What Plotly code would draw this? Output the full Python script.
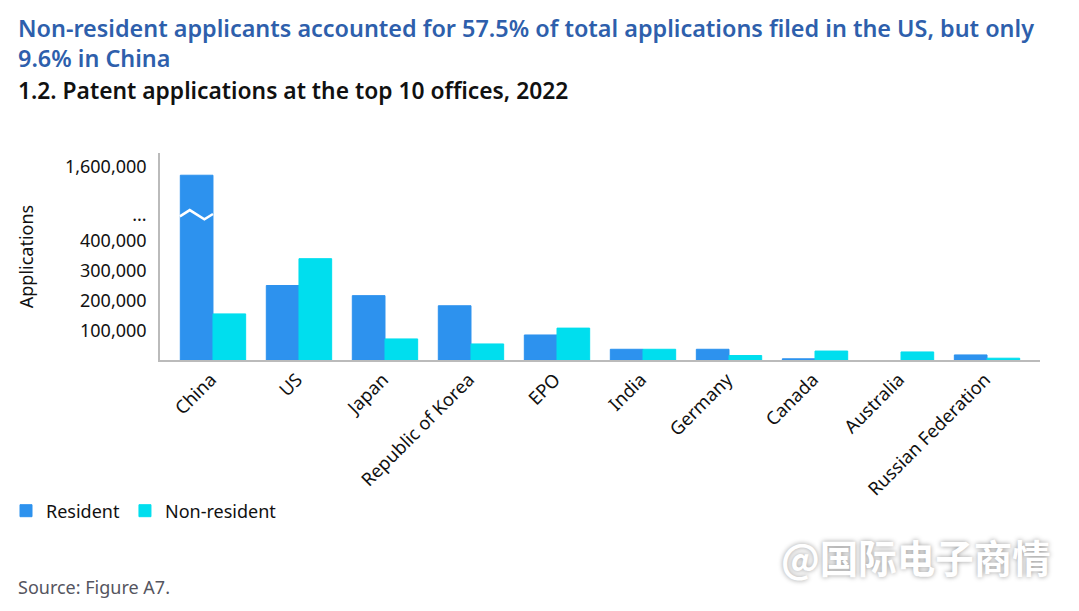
import plotly.graph_objects as go

offices = ["China", "US", "Japan", "Republic of Korea", "EPO", "India", "Germany",
           "Canada", "Australia", "Russian Federation"]
resident = [1464600, 250000, 216000, 182000, 84000, 36000, 36000, 4000, None, 17000]
non_resident = [154700, 340000, 70700, 53900, 107000, 36000, 15000, 30000, 27000, 6000]

tick_values = [100000, 200000, 300000, 400000, 1600000]
tick_labels = ["100,000", "200,000", "300,000", "400,000", "1,600,000"]

W, H = 1079, 611
L, R, T, B = 160, 1040, 153, 360


# axis is broken above 400,000: the part up to 1.6M is squeezed
def squeeze(v):
	if v is None or v <= 400000:
		return v
	return 400000 + (v - 400000) * 248000 / 1200000


def px_x(x):
	return (x - L) / (R - L)


def px_y(y):
	return (B - y) / (B - T)


BREAK_Y = 486000

fig = go.Figure()
fig.add_trace(go.Bar(x=offices, y=[squeeze(v) for v in resident], name="Resident",
	marker_color="#2D92EE", marker_line=dict(color="#2D92EE", width=1)))
fig.add_trace(go.Bar(x=offices, y=[squeeze(v) for v in non_resident], name="Non-resident",
	marker_color="#00DEEE", marker_line=dict(color="#00DEEE", width=1)))

fig.update_layout(
	width=W, height=H,
	margin=dict(l=L, r=W - R, t=T, b=H - B, autoexpand=False),
	barmode="group", bargap=0.24, bargroupgap=0,
	plot_bgcolor="white", paper_bgcolor="white",
	font=dict(family="Noto Sans", size=18, color="#111111"),
	legend=dict(orientation="h", x=px_x(6), y=px_y(511), xanchor="left", yanchor="middle",
		font=dict(size=18), itemwidth=30),
)
fig.update_xaxes(range=[-0.616, 9.616], tickangle=-45, showgrid=False, ticks="",
	showline=True, linecolor="#BBBBBB", linewidth=1.5, ticklabelshift=-2, tickfont=dict(size=18.3))
fig.update_yaxes(range=[0, 694600], tickmode="array", showgrid=False, zeroline=False,
	tickvals=[squeeze(v) for v in tick_values] + [BREAK_Y],
	ticktext=tick_labels + ["..."],
	showline=True, linecolor="#BBBBBB", linewidth=1.5, ticks="", ticklabelstandoff=8,
	title=dict(text="Applications", standoff=27, font=dict(size=18)))

# white zigzag over the China bar marking the break
fig.add_shape(type="path", xref="x", yref="y",
	path="M -0.385,482000 L -0.27,503000 L -0.1,472000 L 0,490000",
	line=dict(color="white", width=2.5))

texts = [
	("Non-resident applicants accounted for 57.5% of total applications filed in the US, but only<br>9.6% in China",
		16, 43, 23.4, "#2E5FAC", 600),
	("1.2. Patent applications at the top 10 offices, 2022", 16, 90, 22.8, "#111111", 600),
	("Source: Figure A7.", 16, 587, 18, "#555560", 400),
]
for text, x, y, size, color, weight in texts:
	fig.add_annotation(xref="paper", yref="paper", x=px_x(x), y=px_y(y), text=text,
		showarrow=False, xanchor="left", yanchor="middle", align="left",
		font=dict(size=size, color=color, weight=weight))

fig.add_annotation(xref="paper", yref="paper", x=px_x(1053), y=px_y(556), text="@国际电子商情",
	showarrow=False, xanchor="right", yanchor="middle",
	font=dict(family="Noto Sans CJK SC", size=38.5, color="white", weight="bold", shadow="0px 0px 5px #999999"))

fig.write_html("out.html", post_script="document.body.style.margin='0';", config={"displayModeBar": False})
